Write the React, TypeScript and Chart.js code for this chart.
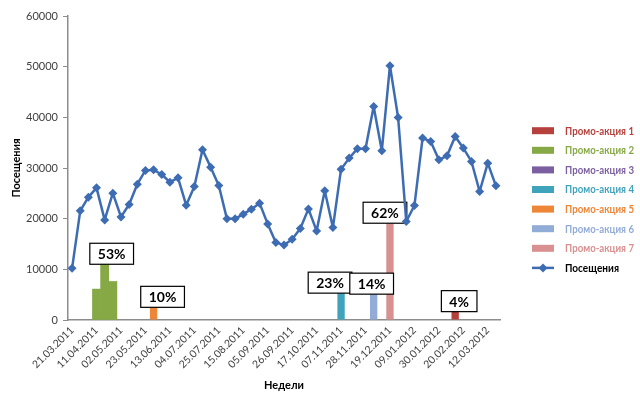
import React, { useEffect, useRef } from 'react';
import { Chart, registerables } from 'chart.js';

Chart.register(...registerables);

const FONT = 'Lato, "Open Sans", "DejaVu Sans", sans-serif';

const weeks = [
  '21.03.2011', '28.03.2011', '04.04.2011', '11.04.2011', '18.04.2011', '25.04.2011',
  '02.05.2011', '09.05.2011', '16.05.2011', '23.05.2011', '30.05.2011', '06.06.2011',
  '13.06.2011', '20.06.2011', '27.06.2011', '04.07.2011', '11.07.2011', '18.07.2011',
  '25.07.2011', '01.08.2011', '08.08.2011', '15.08.2011', '22.08.2011', '29.08.2011',
  '05.09.2011', '12.09.2011', '19.09.2011', '26.09.2011', '03.10.2011', '10.10.2011',
  '17.10.2011', '24.10.2011', '31.10.2011', '07.11.2011', '14.11.2011', '21.11.2011',
  '28.11.2011', '05.12.2011', '12.12.2011', '19.12.2011', '26.12.2011', '02.01.2012',
  '09.01.2012', '16.01.2012', '23.01.2012', '30.01.2012', '06.02.2012', '13.02.2012',
  '20.02.2012', '27.02.2012', '05.03.2012', '12.03.2012', '19.03.2012',
];

const visits = [
  10200, 21540, 24240, 26080, 19760, 25030, 20350, 22790, 26810, 29510,
  29640, 28720, 27200, 28060, 22660, 26340, 33590, 30170, 26540, 19960,
  19960, 20890, 21870, 23060, 18970, 15280, 14820, 15940, 18040, 21930,
  17590, 25490, 18240, 29770, 31950, 33790, 33790, 42150, 33390, 50190,
  39980, 19430, 22590, 35900, 35240, 31620, 32410, 36230, 33930, 31290,
  25360, 30960, 26480,
];

const promoNames = [
  'Промо-акция 1', 'Промо-акция 2', 'Промо-акция 3', 'Промо-акция 4',
  'Промо-акция 5', 'Промо-акция 6', 'Промо-акция 7',
];
const promo1Weeks = ['13.02.2012'];
const promo1Values = [1650];
const promo2Weeks = ['11.04.2011', '18.04.2011', '25.04.2011'];
const promo2Values = [6100, 11000, 7600];
const promo3Weeks: string[] = [];
const promo3Values: number[] = [];
const promo4Weeks = ['07.11.2011'];
const promo4Values = [5300];
const promo5Weeks = ['30.05.2011'];
const promo5Values = [2500];
const promo6Weeks = ['05.12.2011'];
const promo6Values = [5100];
const promo7Weeks = ['19.12.2011'];
const promo7Values = [19100];
const promoShares = ['4%', '53%', '', '23%', '10%', '14%', '62%'];

const promoWeeks = [promo1Weeks, promo2Weeks, promo3Weeks, promo4Weeks, promo5Weeks, promo6Weeks, promo7Weeks];
const promoValues = [promo1Values, promo2Values, promo3Values, promo4Values, promo5Values, promo6Values, promo7Values];

const promoColors = ['#B5403C', '#86A845', '#7B5FA0', '#40A3BC', '#EE8637', '#92ACD8', '#D99090'];
const lineColor = '#3D6CB3';
// small horizontal nudges of the share labels (px), as placed in the original
const shareNudge = [4, 7, 0, -11, 9, -2, -5];

export default function App() {
  const ref = useRef<HTMLCanvasElement>(null);

  useEffect(() => {
    if (!ref.current) return;

    const datasets: any[] = promoNames.map((name, k) => ({
      type: 'bar',
      label: name,
      data: promoWeeks[k].map((w, j) => ({ x: w, y: promoValues[k][j] })),
      backgroundColor: promoColors[k],
      borderWidth: 0,
      grouped: false,
      barPercentage: promoWeeks[k].length > 1 ? 1 : 0.9,
      categoryPercentage: 1,
      order: 1,
    }));
    datasets.push({
      type: 'line',
      label: 'Посещения',
      data: visits,
      borderColor: lineColor,
      backgroundColor: lineColor,
      borderWidth: 2.5,
      borderJoinStyle: 'round',
      pointStyle: 'rectRot',
      pointRadius: 4.5,
      pointHoverRadius: 4.5,
      pointBorderWidth: 0,
      tension: 0,
      order: 0,
    });

    const shareBoxes = {
      id: 'shareBoxes',
      beforeDatasetDraw(chart: any, args: any) {
        if (chart.data.datasets[args.index].type !== 'line') return;
        const ctx = chart.ctx;
        ctx.save();
        ctx.font = `bold 14px ${FONT}`;
        promoShares.forEach((txt, k) => {
          if (!txt) return;
          const meta = chart.getDatasetMeta(k);
          let top: any = null;
          meta.data.forEach((el: any) => {
            if (!top || el.y < top.y) top = el;
          });
          if (!top) return;
          const w = ctx.measureText(txt).width + 16;
          const h = 21;
          const cx = top.x + shareNudge[k];
          const bottom = top.y;
          ctx.fillStyle = '#ffffff';
          ctx.fillRect(cx - w / 2, bottom - h, w, h);
          ctx.strokeStyle = '#000000';
          ctx.lineWidth = 1.2;
          ctx.strokeRect(cx - w / 2, bottom - h, w, h);
          ctx.fillStyle = '#000000';
          ctx.textAlign = 'center';
          ctx.textBaseline = 'middle';
          ctx.fillText(txt, cx, bottom - h / 2 + 1);
        });
        ctx.restore();
      },
    };

    const sideLegend = {
      id: 'sideLegend',
      afterDraw(chart: any) {
        const ctx = chart.ctx;
        const x0 = chart.chartArea.right + 32;
        const y0 = 130.7;
        const step = 19.6;
        ctx.save();
        chart.data.datasets.forEach((ds: any, i: number) => {
          const y = y0 + i * step;
          const isLine = ds.type === 'line';
          let maxW = 69;
          if (isLine) {
            ctx.strokeStyle = ds.borderColor;
            ctx.lineWidth = 2.5;
            ctx.beginPath();
            ctx.moveTo(x0, y);
            ctx.lineTo(x0 + 22, y);
            ctx.stroke();
            ctx.fillStyle = ds.borderColor;
            ctx.beginPath();
            ctx.moveTo(x0 + 11, y - 4.5);
            ctx.lineTo(x0 + 15.5, y);
            ctx.lineTo(x0 + 11, y + 4.5);
            ctx.lineTo(x0 + 6.5, y);
            ctx.closePath();
            ctx.fill();
            ctx.fillStyle = '#000000';
            maxW = 54;
          } else {
            ctx.fillStyle = ds.backgroundColor;
            ctx.fillRect(x0, y - 3.5, 22, 7);
          }
          ctx.font = `bold 12px ${FONT}`;
          ctx.textAlign = 'left';
          ctx.textBaseline = 'middle';
          ctx.fillText(ds.label, x0 + 33, y, maxW);
        });
        ctx.restore();
      },
    };

    const chart = new Chart(ref.current, {
      type: 'bar',
      data: { labels: weeks, datasets },
      options: {
        responsive: false,
        animation: false,
        layout: { padding: { top: 16, right: 140, left: 0, bottom: 0 } },
        plugins: {
          legend: { display: false },
          tooltip: { enabled: false },
        },
        scales: {
          x: {
            type: 'category',
            offset: true,
            grid: { display: false, drawTicks: false },
            border: { display: true, color: '#8C8C8C', width: 1.5 },
            ticks: {
              autoSkip: false,
              maxRotation: 45,
              minRotation: 45,
              padding: 4,
              color: '#404040',
              font: { family: FONT, size: 10.5 },
              callback: (_v: any, i: number) => (i % 3 === 0 ? weeks[i] : ''),
            },
            title: {
              display: true,
              text: 'Недели',
              color: '#000000',
              font: { family: FONT, size: 11, weight: 'bold' },
              padding: { top: 4, bottom: 4 },
            },
            afterFit: (scale: any) => {
              scale.height = 76;
            },
          },
          y: {
            min: 0,
            max: 60000,
            grid: { drawOnChartArea: false, drawTicks: true, tickLength: 5, color: '#8C8C8C', lineWidth: 1 },
            border: { display: true, color: '#8C8C8C', width: 1.5 },
            ticks: {
              stepSize: 10000,
              padding: 5,
              color: '#404040',
              font: { family: FONT, size: 11 },
              callback: (v: any) => String(v),
            },
            title: {
              display: true,
              text: 'Посещения',
              color: '#000000',
              font: { family: FONT, size: 11, weight: 'bold' },
              padding: { top: 10, bottom: 4 },
            },
            afterFit: (scale: any) => {
              scale.width = 68;
            },
          },
        },
      } as any,
      plugins: [shareBoxes, sideLegend],
    });

    return () => chart.destroy();
  }, []);

  return (
    <div style={{ position: 'fixed', left: 0, top: 0, width: 640, height: 396, background: '#ffffff' }}>
      <canvas ref={ref} width={640} height={396} style={{ display: 'block' }} />
    </div>
  );
}
